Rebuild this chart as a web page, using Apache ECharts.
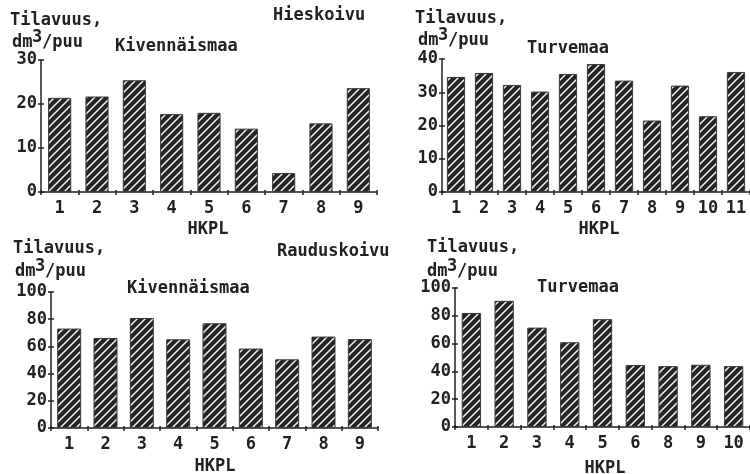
<!DOCTYPE html>
<html>
<head>
<meta charset="utf-8">
<script src="https://cdn.jsdelivr.net/npm/echarts@6/dist/echarts.min.js"></script>
<style>
  html, body { margin: 0; padding: 0; background: #fff; }
  #chart { width: 750px; height: 474px; }
</style>
</head>
<body>
<div id="chart"></div>
<script>
// Hieskoivu (top) and Rauduskoivu (bottom): volume per tree by HKPL class
const catsHiesKiv = ['1', '2', '3', '4', '5', '6', '7', '8', '9'];
const valsHiesKiv = [21.4, 21.7, 25.4, 17.7, 18.0, 14.4, 4.3, 15.6, 23.6];

const catsHiesTurve = ['1', '2', '3', '4', '5', '6', '7', '8', '9', '10', '11'];
const valsHiesTurve = [34.6, 35.8, 32.2, 30.2, 35.5, 38.5, 33.5, 21.5, 32.0, 22.8, 36.1];

const catsRaudKiv = ['1', '2', '3', '4', '5', '6', '7', '8', '9'];
const valsRaudKiv = [73.1, 66.2, 80.9, 65.2, 77.0, 58.4, 50.5, 67.2, 65.4];

const catsRaudTurve = ['1', '2', '3', '4', '5', '6', '8', '9', '10'];
const valsRaudTurve = [82.0, 90.8, 71.5, 61.0, 77.6, 44.6, 43.8, 44.8, 43.8];

const FONT = '"DejaVu Sans Mono", "Liberation Mono", monospace';
const FS = 17;
const INK = '#222';

// Dark fill with white diagonal hatching
function hatchPattern() {
  const s = 8;
  const c = document.createElement('canvas');
  c.width = s; c.height = s;
  const g = c.getContext('2d');
  g.fillStyle = '#252525';
  g.fillRect(0, 0, s, s);
  g.strokeStyle = '#f2f2f2';
  g.lineWidth = 1.5;
  g.beginPath();
  g.moveTo(-1, s + 1); g.lineTo(s + 1, -1);
  g.moveTo(-1, 1); g.lineTo(1, -1);
  g.moveTo(s - 1, s + 1); g.lineTo(s + 1, s - 1);
  g.stroke();
  return c;
}
const hatch = hatchPattern();

const panels = [
  { cats: catsHiesKiv, vals: valsHiesKiv, grid: { left: 41, top: 60, width: 336, height: 132 }, max: 30, interval: 10, gap: '38%' },
  { cats: catsHiesTurve, vals: valsHiesTurve, grid: { left: 442, top: 59, width: 312, height: 133 }, max: 40, interval: 10, gap: '35%' },
  { cats: catsRaudKiv, vals: valsRaudKiv, grid: { left: 51, top: 292, width: 327, height: 136 }, max: 100, interval: 20, gap: '34%' },
  { cats: catsRaudTurve, vals: valsRaudTurve, grid: { left: 455, top: 288, width: 304, height: 139 }, max: 100, interval: 20, gap: '41%' }
];

const labelStyle = { fontFamily: FONT, fontWeight: 'bold', fontSize: FS, color: INK };
const grids = [], xAxes = [], yAxes = [], series = [];

panels.forEach((p, i) => {
  grids.push(Object.assign({ containLabel: false }, p.grid));
  // main axes
  xAxes.push({
    type: 'category', gridIndex: i, data: p.cats, position: 'bottom',
    axisLine: { lineStyle: { color: INK, width: 1.5 } },
    axisTick: { show: true, length: 3, lineStyle: { color: INK, width: 1.5 } },
    axisLabel: Object.assign({ margin: 8 }, labelStyle),
    splitLine: { show: false }
  });
  // inner tick marks so ticks cross the axis line
  xAxes.push({
    type: 'category', gridIndex: i, data: p.cats, position: 'bottom',
    axisLine: { show: false },
    axisTick: { show: true, inside: true, length: 2, lineStyle: { color: INK, width: 1.5 } },
    axisLabel: { show: false }, splitLine: { show: false }
  });
  yAxes.push({
    type: 'value', gridIndex: i, min: 0, max: p.max, interval: p.interval, position: 'left',
    axisLine: { show: true, lineStyle: { color: INK, width: 1.5 } },
    axisTick: { show: true, length: 3, lineStyle: { color: INK, width: 1.5 } },
    axisLabel: Object.assign({ margin: 4 }, labelStyle),
    splitLine: { show: false }
  });
  yAxes.push({
    type: 'value', gridIndex: i, min: 0, max: p.max, interval: p.interval, position: 'left',
    axisLine: { show: false },
    axisTick: { show: true, inside: true, length: 3, lineStyle: { color: INK, width: 1.5 } },
    axisLabel: { show: false }, splitLine: { show: false }
  });
  series.push({
    type: 'bar', xAxisIndex: 2 * i, yAxisIndex: 2 * i, data: p.vals,
    barCategoryGap: p.gap,
    itemStyle: { color: { image: hatch, repeat: 'repeat' }, borderColor: '#3a3a3a', borderWidth: 1 },
    emphasis: { disabled: true },
    animation: false
  });
});

function txt(x, y, s, align) {
  return {
    type: 'text', x: x, y: y, silent: true,
    style: { text: s, fill: INK, font: 'bold ' + FS + 'px ' + FONT, textAlign: align || 'left', textVerticalAlign: 'middle' }
  };
}
// unit label "dm³/puu" with a raised full-size 3
function unit(x, y) {
  return [txt(x, y, 'dm'), txt(x + 20, y - 5, '3'), txt(x + 30, y, '/puu')];
}

const graphics = [].concat(
  [txt(10, 21, 'Tilavuus,')], unit(12, 43),
  [txt(115, 47, 'Kivennäismaa'), txt(273, 16, 'Hieskoivu'), txt(208, 230, 'HKPL', 'center')],

  [txt(415, 19, 'Tilavuus,')], unit(418, 41),
  [txt(527, 49, 'Turvemaa'), txt(599, 230, 'HKPL', 'center')],

  [txt(13, 249, 'Tilavuus,')], unit(15, 272),
  [txt(277, 252, 'Rauduskoivu'), txt(127, 289, 'Kivennäismaa'), txt(215, 467, 'HKPL', 'center')],

  [txt(427, 248, 'Tilavuus,')], unit(427, 272),
  [txt(537, 288, 'Turvemaa'), txt(605, 469, 'HKPL', 'center')]
);

const chart = echarts.init(document.getElementById('chart'), null, { renderer: 'canvas' });
chart.setOption({
  animation: false,
  backgroundColor: '#fff',
  grid: grids,
  xAxis: xAxes,
  yAxis: yAxes,
  series: series,
  graphic: graphics
});
</script>
</body>
</html>
